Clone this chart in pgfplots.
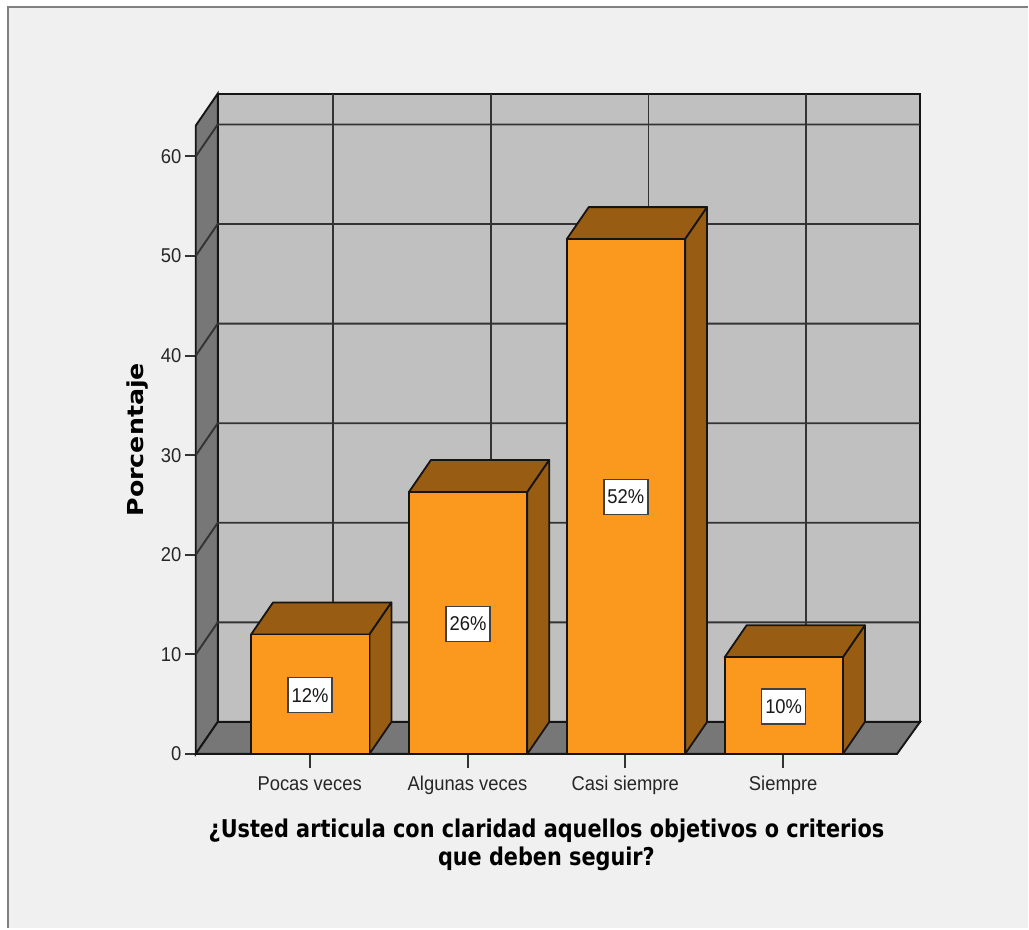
\documentclass[border=0pt]{standalone}
\usepackage{fontspec}
\usepackage{pgfplots}
\pgfplotsset{compat=1.18}
\setmainfont[FakeStretch=0.92]{Liberation Sans}
\newfontfamily\titlefont[FakeStretch=0.85]{DejaVu Sans}
\newfontfamily\yfont[FakeStretch=1.15]{DejaVu Sans}
\definecolor{panel}{HTML}{F0F0F0}
\definecolor{wallc}{HTML}{C0C0C0}
\definecolor{sidec}{HTML}{777777}
\definecolor{barf}{HTML}{FA991E}
\definecolor{bard}{HTML}{985C12}
\definecolor{frameg}{HTML}{808080}
\definecolor{edgec}{HTML}{151515}
\begin{document}
\begin{tikzpicture}[x=1pt,y=1pt]
% page and panel: origin is the foot of the value axis
\fill[white] (-196,-174.3) rectangle (833,754.7);
\fill[panel] (-188,-174.3) rectangle (833,747.7);
\draw[frameg, line width=2.2pt] (-188,-174.3) -- (-188,747.7) -- (833,747.7);
\begin{axis}[
  at={(0,0)}, anchor=south west,
  scale only axis, width=702pt, height=629pt,
  xmin=-0.7215, xmax=3.7215, ymin=0, ymax=63.1,
  clip=false,
  axis x line*=bottom, axis y line*=left,
  axis line style={-, line width=1.9pt, draw=edgec},
  xtick={0,1,2,3},
  xticklabels={Pocas veces,Algunas veces,Casi siempre,Siempre},
  ytick={0,10,20,30,40,50,60},
  /pgf/number format/assume math mode=true,
  tick align=outside,
  major tick length=11pt,
  y tick style={line width=2pt, draw=black!80},
  x tick style={line width=2pt, draw=black!80, /pgfplots/major tick length=14pt},
  xtick pos=bottom, ytick pos=left,
  tick label style={font=\fontsize{20}{24}\selectfont, text=black!85},
  x tick label style={yshift=-7.5pt, text height=15pt, text depth=4pt},
  xlabel={¿Usted articula con claridad aquellos objetivos o criterios\\que deben seguir?},
  xlabel style={at={(axis description cs:0.5,-0.1455)}, anchor=center, align=center,
    font=\titlefont\bfseries\fontsize{24.5}{28}\selectfont},
  ylabel={Porcentaje},
  ylabel style={at={(axis description cs:-0.083,0.5)}, anchor=center, rotate=0,
    font=\yfont\bfseries\fontsize{22}{26}\selectfont},
]
% back wall, side wall and floor
\addplot[fill=wallc, draw=edgec, line width=1.9pt] coordinates {(-0.5825,3.21) (3.867,3.21) (3.867,66.31) (-0.5825,66.31)} --cycle;
\addplot[fill=sidec, draw=edgec, line width=1.9pt] coordinates {(-0.7215,0) (-0.5825,3.21) (-0.5825,66.31) (-0.7215,63.1)} --cycle;
\addplot[fill=sidec, draw=edgec, line width=1.9pt] coordinates {(-0.7215,0) (3.7215,0) (3.867,3.21) (-0.5825,3.21)} --cycle;

% wall grid
\pgfplotsset{gridl/.style={draw=black!80, line width=1.9pt}}
\addplot[gridl] coordinates {(-0.7215,10) (-0.5825,13.21) (3.867,13.21)};
\addplot[gridl] coordinates {(-0.7215,20) (-0.5825,23.21) (3.867,23.21)};
\addplot[gridl] coordinates {(-0.7215,30) (-0.5825,33.21) (3.867,33.21)};
\addplot[gridl] coordinates {(-0.7215,40) (-0.5825,43.21) (3.867,43.21)};
\addplot[gridl] coordinates {(-0.7215,50) (-0.5825,53.21) (3.867,53.21)};
\addplot[gridl] coordinates {(-0.7215,60) (-0.5825,63.21) (3.867,63.21)};
\addplot[gridl] coordinates {(0.147,3.21) (0.147,66.31)};
\addplot[gridl] coordinates {(1.147,3.21) (1.147,66.31)};
\addplot[gridl] coordinates {(2.147,3.21) (2.147,66.31)};
\addplot[gridl] coordinates {(3.147,3.21) (3.147,66.31)};

% bars
\pgfplotsset{
  ff/.style={fill=barf, draw=edgec, line width=1.8pt, line join=round},
  dd/.style={fill=bard, draw=edgec, line width=1.8pt, line join=round}}
% Pocas veces 12.0
\addplot[dd] coordinates {(-0.371,12.0) (0.379,12.0) (0.518,15.21) (-0.232,15.21)} --cycle;
\addplot[dd] coordinates {(0.379,0) (0.518,3.21) (0.518,15.21) (0.379,12.0)} --cycle;
\addplot[ff] coordinates {(-0.371,0) (0.379,0) (0.379,12.0) (-0.371,12.0)} --cycle;
% Algunas veces 26.3
\addplot[dd] coordinates {(0.629,26.3) (1.379,26.3) (1.518,29.51) (0.768,29.51)} --cycle;
\addplot[dd] coordinates {(1.379,0) (1.518,3.21) (1.518,29.51) (1.379,26.3)} --cycle;
\addplot[ff] coordinates {(0.629,0) (1.379,0) (1.379,26.3) (0.629,26.3)} --cycle;
% Casi siempre 51.7
\addplot[dd] coordinates {(1.629,51.7) (2.379,51.7) (2.518,54.91) (1.768,54.91)} --cycle;
\addplot[dd] coordinates {(2.379,0) (2.518,3.21) (2.518,54.91) (2.379,51.7)} --cycle;
\addplot[ff] coordinates {(1.629,0) (2.379,0) (2.379,51.7) (1.629,51.7)} --cycle;
% Siempre 9.7
\addplot[dd] coordinates {(2.629,9.7) (3.379,9.7) (3.518,12.91) (2.768,12.91)} --cycle;
\addplot[dd] coordinates {(3.379,0) (3.518,3.21) (3.518,12.91) (3.379,9.7)} --cycle;
\addplot[ff] coordinates {(2.629,0) (3.379,0) (3.379,9.7) (2.629,9.7)} --cycle;

% value labels
\addplot[draw=none, mark=none, point meta=explicit symbolic,
  nodes near coords={\pgfplotspointmeta\%},
  nodes near coords align={center},
  nodes near coords style={anchor=center, fill=white, draw=black!75, line width=1.6pt,
    minimum width=44pt, minimum height=35pt, inner sep=0pt, text=black!90,
    font=\fontsize{20}{24}\selectfont}]
  coordinates {(0.003,5.9)[12] (1.003,13.05)[26] (2.003,25.8)[52] (3.003,4.75)[10]};
\end{axis}
\end{tikzpicture}
\end{document}
